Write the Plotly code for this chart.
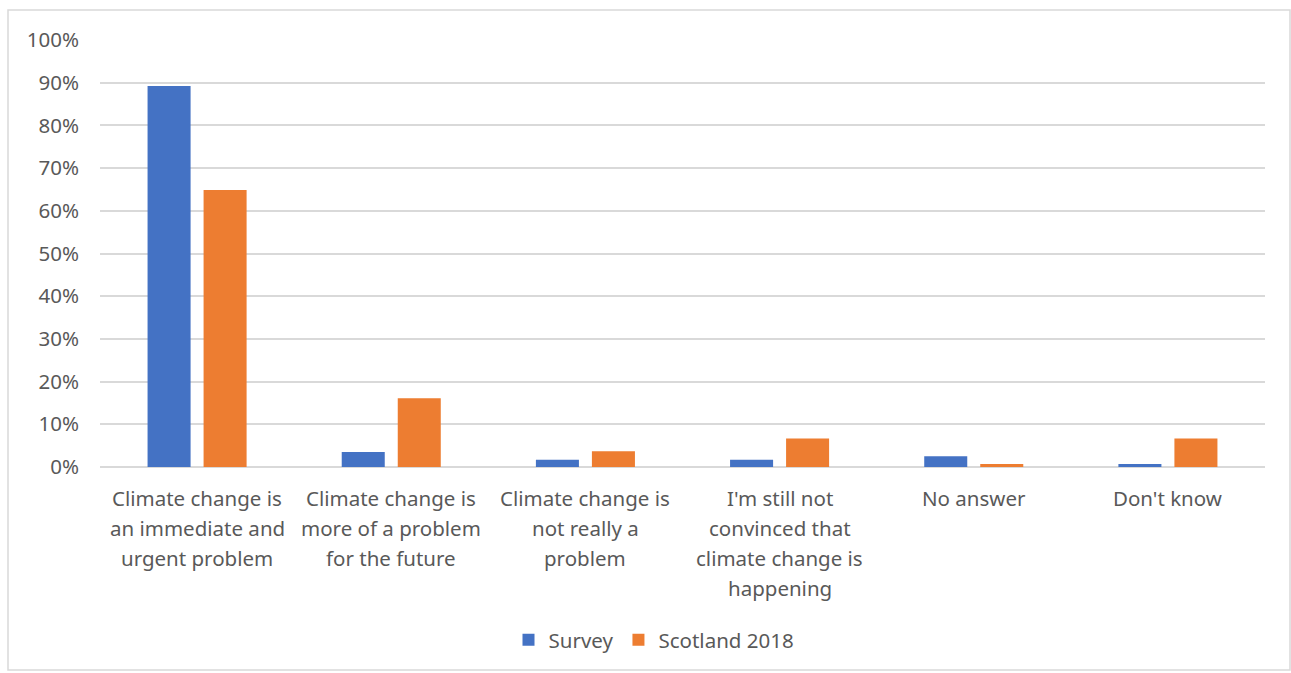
import plotly.graph_objects as go

# Survey responses about how respondents view climate change
categories = [
    "Climate change is\nan immediate and\nurgent problem",
    "Climate change is\nmore of a problem\nfor the future",
    "Climate change is\nnot really a\nproblem",
    "I'm still not\nconvinced that\nclimate change is\nhappening",
    "No answer",
    "Don't know",
]
survey = [0.892, 0.035, 0.017, 0.017, 0.025, 0.007]
scotland_2018 = [0.649, 0.161, 0.037, 0.067, 0.007, 0.067]
y_ticks = [0, 0.1, 0.2, 0.3, 0.4, 0.5, 0.6, 0.7, 0.8, 0.9, 1.0]

W, H = 1291, 673
L, R, T, B = 100, 26, 40, 206
pw, ph = W - L - R, H - T - B

font_family = "Noto Sans, Open Sans, sans-serif"
text_color = "#595959"
fs = 20.5
line_step = 30

fig = go.Figure()
fig.add_trace(go.Bar(name="Survey", x=categories, y=survey,
                     marker=dict(color="#4472C4", line=dict(width=0))))
fig.add_trace(go.Bar(name="Scotland 2018", x=categories, y=scotland_2018,
                     marker=dict(color="#ED7D31", line=dict(width=0))))


def px_x(x):
    return (x - L) / pw


def px_y(y):
    return (H - B - y) / ph


# Category labels, one annotation per line for wider line spacing
annotations = []
for cat in categories:
    for i, line in enumerate(cat.split("\n")):
        annotations.append(dict(
            x=cat, xref="x", y=0, yref="paper", text=line, showarrow=False,
            xanchor="center", yanchor="middle", yshift=-31 - line_step * i,
            font=dict(family=font_family, size=fs, color=text_color)))

fig.update_layout(
    width=W, height=H,
    margin=dict(l=L, r=R, t=T, b=B, autoexpand=False),
    paper_bgcolor="white", plot_bgcolor="white",
    barmode="group", bargap=0.423, bargroupgap=0.232,
    font=dict(family=font_family, size=fs, color=text_color),
    showlegend=True,
    legend=dict(orientation="h", x=px_x(654), xanchor="center", y=px_y(640), yanchor="middle",
                font=dict(size=fs, color=text_color), bgcolor="rgba(0,0,0,0)",
                itemwidth=30, traceorder="normal"),
    xaxis=dict(showgrid=False, showline=False, ticks="", showticklabels=False),
    yaxis=dict(range=[0, 1], tickvals=y_ticks, tickformat=".0%",
               showgrid=True, gridcolor="#d9d9d9", gridwidth=1.5,
               zeroline=True, zerolinecolor="#d9d9d9", zerolinewidth=1.5,
               showline=False, ticks="", ticklabelstandoff=20,
               tickfont=dict(size=fs, color=text_color)),
    annotations=annotations,
    shapes=[dict(type="rect", xref="paper", yref="paper",
                 x0=px_x(8), x1=px_x(1290), y0=px_y(670), y1=px_y(10),
                 line=dict(color="#d9d9d9", width=1.5), fillcolor="rgba(0,0,0,0)",
                 layer="below")],
)

fig.write_html("out.html")
